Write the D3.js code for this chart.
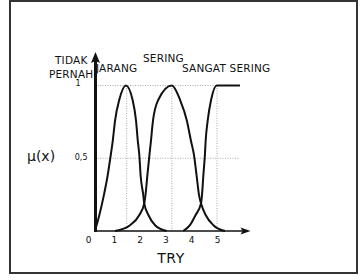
<!DOCTYPE html>
<html>
<head>
<meta charset="utf-8">
<script src="https://cdn.jsdelivr.net/npm/d3@7/dist/d3.min.js"></script>
<style>
  body { margin: 0; background: #fff; }
  text { font-family: "DejaVu Sans", sans-serif; fill: #111; }
</style>
</head>
<body>
<script>
var width = 361, height = 280;

// data (x in TRY units, y in membership)
var xTicks = [0, 1, 2, 3, 4, 5];
var yTicks = [0.5, 1];
var categories = ["TIDAK", "PERNAH", "JARANG", "SERING", "SANGAT SERING"];
var peaks = [1.5, 3.25, 5];

var jarangX = [0.27, 0.44, 0.62, 0.76, 0.88, 0.96, 1.05, 1.21, 1.47, 1.73, 1.86, 1.93, 1.99, 2.04, 2.14, 2.18, 2.34, 2.60, 3.05];
var jarangY = [0, 0.11, 0.25, 0.38, 0.52, 0.62, 0.76, 0.90, 1.0, 0.90, 0.76, 0.62, 0.52, 0.38, 0.25, 0.19, 0.11, 0.04, 0];

var seringX = [1.05, 1.63, 1.99, 2.18, 2.23, 2.30, 2.38, 2.44, 2.52, 2.72, 3.25, 3.57, 3.83, 3.99, 4.11, 4.21, 4.30, 4.38, 4.56, 4.86, 5.31];
var seringY = [0, 0.04, 0.11, 0.19, 0.25, 0.38, 0.52, 0.62, 0.76, 0.90, 1.0, 0.90, 0.76, 0.62, 0.52, 0.38, 0.25, 0.19, 0.11, 0.04, 0];

var sangatX = [3.69, 3.95, 4.17, 4.38, 4.42, 4.47, 4.53, 4.56, 4.64, 4.77, 4.99, 5.89];
var sangatY = [0, 0.04, 0.11, 0.19, 0.25, 0.38, 0.52, 0.62, 0.76, 0.90, 1.0, 1.0];

var originX = 0.29;   // where the vertical axis sits
var axisEndX = 6.3;

var x = d3.scaleLinear().domain([0, 6]).range([88, 242.8]);
var y = d3.scaleLinear().domain([0, 1]).range([231, 85.5]);

var svg = d3.select("body").append("svg")
    .attr("width", width)
    .attr("height", height);

svg.append("rect")
    .attr("x", 10).attr("y", 1)
    .attr("width", 347).attr("height", 272)
    .attr("fill", "#fff")
    .attr("stroke", "#333")
    .attr("stroke-width", 2);

// dotted guides
svg.selectAll(".hgrid")
    .data(yTicks)
    .enter().append("line")
    .attr("x1", x(originX) + 2).attr("x2", x(5.89))
    .attr("y1", function(d) { return y(d); })
    .attr("y2", function(d) { return y(d); })
    .attr("stroke", "#aaa")
    .attr("stroke-width", 1)
    .attr("stroke-dasharray", "1,1.5");

svg.selectAll(".vgrid")
    .data(peaks)
    .enter().append("line")
    .attr("x1", function(d) { return x(d); })
    .attr("x2", function(d) { return x(d); })
    .attr("y1", y(1)).attr("y2", y(0))
    .attr("stroke", "#aaa")
    .attr("stroke-width", 1)
    .attr("stroke-dasharray", "1,1.5");

// curves
var line = d3.line()
    .x(function(d) { return x(d[0]); })
    .y(function(d) { return y(d[1]); })
    .curve(d3.curveMonotoneX);

[[jarangX, jarangY], [seringX, seringY], [sangatX, sangatY]].forEach(function(s) {
    svg.append("path")
        .datum(d3.zip(s[0], s[1]))
        .attr("d", line)
        .attr("fill", "none")
        .attr("stroke", "#111")
        .attr("stroke-width", 2);
});

// x axis line + arrow
svg.append("line")
    .attr("x1", x(originX)).attr("x2", x(axisEndX) - 4)
    .attr("y1", y(0)).attr("y2", y(0))
    .attr("stroke", "#111").attr("stroke-width", 1.5);
svg.append("path")
    .attr("d", "M" + x(axisEndX) + "," + y(0) + "l-10,-3.5l2,3.5l-2,3.5z")
    .attr("fill", "#111");

// y axis (thick, tidak pernah) + arrow
svg.append("line")
    .attr("x1", x(originX)).attr("x2", x(originX))
    .attr("y1", y(0) + 1).attr("y2", 60)
    .attr("stroke", "#111").attr("stroke-width", 3);
svg.append("path")
    .attr("d", "M" + x(originX) + ",52l-4.5,11l4.5,-2l4.5,2z")
    .attr("fill", "#111");

var xAxis = d3.axisBottom(x)
    .tickValues(xTicks)
    .tickSize(0)
    .tickPadding(6)
    .tickFormat(d3.format("d"));

var gx = svg.append("g")
    .attr("transform", "translate(0," + y(0) + ")")
    .call(xAxis);
gx.select(".domain").remove();
gx.selectAll(".tick text")
    .style("font-family", "DejaVu Sans, sans-serif")
    .style("font-size", "9px")
    .attr("fill", "#111");

var yAxis = d3.axisLeft(y)
    .tickValues(yTicks)
    .tickSize(0)
    .tickFormat(function(d) { return d === 1 ? "1" : "0,5"; });

var gy = svg.append("g")
    .attr("transform", "translate(" + x(originX) + ",0)")
    .call(yAxis);
gy.select(".domain").remove();
gy.selectAll(".tick text")
    .style("font-family", "DejaVu Sans, sans-serif")
    .style("font-size", "8px")
    .attr("fill", "#111")
    .attr("x", function(d) { return d === 1 ? -15 : -8; })
    .attr("dy", function(d) { return d === 1 ? "0.05em" : "0.15em"; });

// category labels
var lab = [
    { t: categories[0], x: 55, y: 64 },
    { t: categories[1], x: 49, y: 78 },
    { t: categories[2], x: 96, y: 72 },
    { t: categories[3], x: 143, y: 62 },
    { t: categories[4], x: 182, y: 72 }
];
svg.selectAll(".cat")
    .data(lab)
    .enter().append("text")
    .attr("x", function(d) { return d.x; })
    .attr("y", function(d) { return d.y; })
    .style("font-size", "10.5px")
    .style("letter-spacing", "0.2px")
    .text(function(d) { return d.t; });

svg.append("text")
    .attr("x", 27).attr("y", 161)
    .style("font-size", "14px")
    .text("μ(x)");

svg.append("text")
    .attr("x", 171).attr("y", 263)
    .attr("text-anchor", "middle")
    .style("font-size", "14px")
    .style("letter-spacing", "0.5px")
    .text("TRY");
</script>
</body>
</html>
